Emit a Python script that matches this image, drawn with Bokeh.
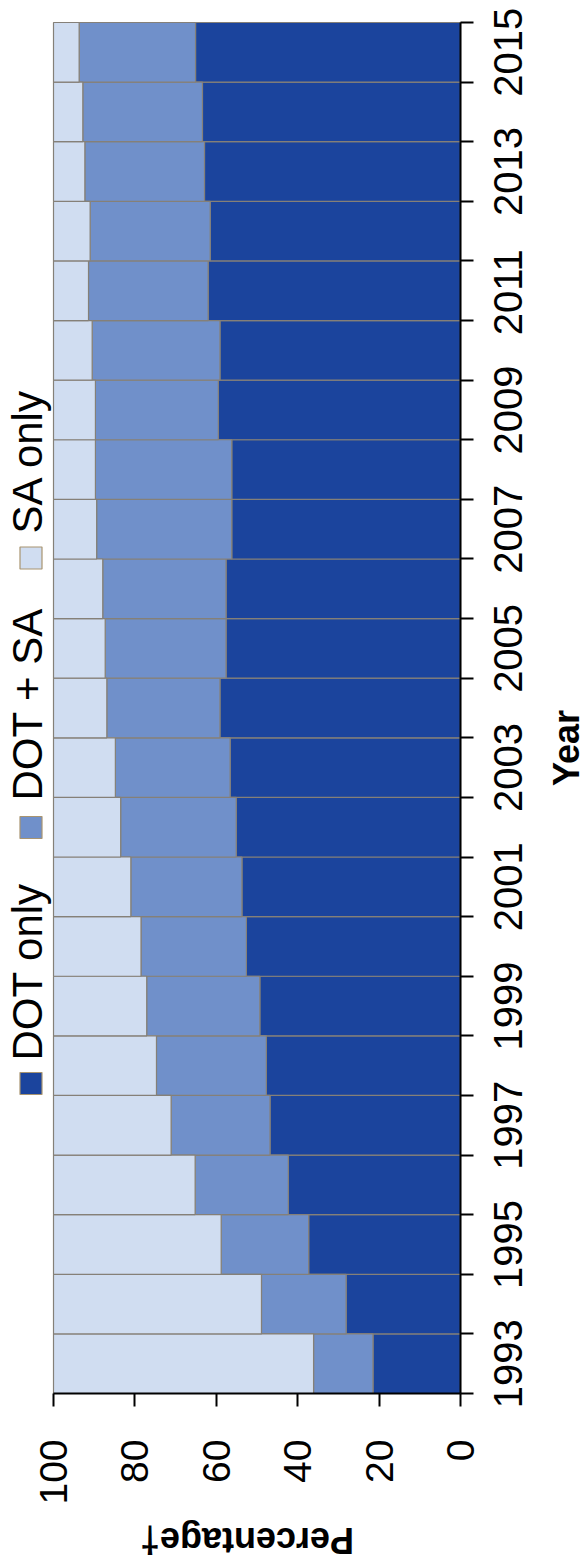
import math
from bokeh.plotting import figure
from bokeh.models import ColumnDataSource, Range1d, FixedTicker, Label, LinearAxis
from bokeh.embed import file_html
from bokeh.resources import INLINE

# ---- data ----
years = list(range(1993, 2016))
dot_only = [21.5, 28.1, 37.3, 42.3, 46.8, 47.7, 49.3, 52.6, 53.7, 55.1, 56.6, 59.1,
            57.6, 57.6, 56.2, 56.2, 59.5, 59.1, 62.0, 61.5, 62.9, 63.4, 65.1]
dot_sa = [14.6, 20.8, 21.5, 22.9, 24.3, 27.0, 27.8, 25.9, 27.3, 28.4, 28.2, 27.8,
          29.7, 30.3, 33.2, 33.5, 30.2, 31.4, 29.4, 29.5, 29.4, 29.4, 28.6]
sa_only = [63.9, 51.1, 41.2, 34.8, 28.9, 25.3, 22.9, 21.5, 19.0, 16.5, 15.2, 13.1,
           12.7, 12.1, 10.6, 10.3, 10.3, 9.5, 8.6, 9.0, 7.7, 7.2, 6.3]
series_names = ["DOT only", "DOT + SA", "SA only"]
pct_ticks = [0, 20, 40, 60, 80, 100]
year_ticks = [y for y in years if y % 2 == 1]

colors = ["#1b449d", "#7090ca", "#d0ddf1"]
edge = "#858078"
FONT = "Liberation Sans"

# ---- geometry: the frame fills the whole canvas, axes sit at fixed data locations ----
W, H = 588, 1564
X0_PX, X100_PX = 460, 53          # screen x of 0 % and 100 %
TOP_PX, BOT_PX = 22, 1393         # screen y of the top and bottom edge of the bar stack
bar_lo, bar_hi = years[0] - 0.5, years[-1] + 0.5
px_per_pct = (X0_PX - X100_PX) / 100.0
px_per_year = (BOT_PX - TOP_PX) / (bar_hi - bar_lo)
YEAR_FONT = 40


def xv(px):  # screen x -> data x
    return (X0_PX - px) / px_per_pct


def yv(py):  # screen y -> data y
    return bar_hi - (py - TOP_PX) / px_per_year


src = ColumnDataSource(dict(year=years, dot_only=dot_only, dot_sa=dot_sa, sa_only=sa_only))

p = figure(frame_width=W, frame_height=H, x_range=Range1d(xv(0), xv(W)),
           y_range=Range1d(yv(H), yv(0)), y_axis_location=None, title=None,
           output_backend="svg", toolbar_location=None,
           min_border_left=0, min_border_top=0, min_border_right=0, min_border_bottom=0)
p.outline_line_color = None
p.xgrid.visible = False
p.ygrid.visible = False
p.background_fill_color = "white"
p.border_fill_color = "white"

p.hbar_stack(["dot_only", "dot_sa", "sa_only"], y="year", height=1.0, source=src,
             fill_color=colors, line_color=edge, line_width=1.2)

# x axis (percentage) along the bottom edge of the bars
xa = p.xaxis[0]
xa.fixed_location = bar_lo
xa.bounds = (0, 100)
xa.ticker = FixedTicker(ticks=pct_ticks)
xa.minor_tick_line_color = None
xa.major_tick_in = 0
xa.major_tick_out = 13
xa.major_tick_line_width = 2
xa.axis_line_width = 2
xa.axis_line_color = "black"
xa.major_tick_line_color = "black"
xa.major_label_orientation = math.pi / 2
xa.major_label_text_font = FONT
xa.major_label_text_font_size = "39px"
xa.major_label_text_color = "black"
xa.major_label_standoff = 33

# y axis line with ticks between the bars
ya = LinearAxis(fixed_location=0, bounds=(bar_lo, bar_hi))
ya.ticker = FixedTicker(ticks=[], minor_ticks=[y - 0.5 for y in years] + [bar_hi])
ya.major_tick_line_color = None
ya.minor_tick_in = 0
ya.minor_tick_out = 13
ya.minor_tick_line_width = 2
ya.minor_tick_line_color = "black"
ya.axis_line_width = 2
ya.axis_line_color = "black"
p.add_layout(ya, "right")

# year labels: a rotated label starts at its tick, so the tick is put half a label
# length below the centre of its bar
half_len = 4 * 0.556 * YEAR_FONT / 2 / px_per_year
lab_pos = [round(y - half_len, 4) for y in year_ticks]
yl = LinearAxis(fixed_location=0)
yl.ticker = FixedTicker(ticks=lab_pos, minor_ticks=[])
yl.major_label_overrides = {t: str(y) for t, y in zip(lab_pos, year_ticks)}
yl.axis_line_color = None
yl.major_tick_line_color = None
yl.minor_tick_line_color = None
yl.major_tick_in = 0
yl.major_tick_out = 0
yl.major_label_orientation = math.pi / 2
yl.major_label_text_font = FONT
yl.major_label_text_font_size = "%dpx" % YEAR_FONT
yl.major_label_text_color = "black"
yl.major_label_standoff = 48
p.add_layout(yl, "right")

# axis titles
p.add_layout(Label(x=xv(566), y=yv(747.5), text="Year", angle=math.pi / 2,
                   text_font=FONT, text_font_size="36px", text_font_style="bold",
                   text_color="black", text_align="center", text_baseline="middle"))
p.add_layout(Label(x=xv(246.5), y=yv(1540), text="Percentage\u2020", angle=math.pi,
                   text_font=FONT, text_font_size="36px", text_font_style="bold",
                   text_color="black", text_align="center", text_baseline="middle"))

# legend (rotated, left of the bars)
sq_y = [1083, 827, 557.5]
txt_y = [1060, 800, 533]
p.scatter(x=[xv(30.5)] * 3, y=[yv(v) for v in sq_y], marker="square", size=22,
          fill_color=colors, line_color="#a89470", line_width=1.2)
for name, ty in zip(series_names, txt_y):
    p.add_layout(Label(x=xv(27), y=yv(ty), text=name, angle=math.pi / 2,
                       text_font=FONT, text_font_size="42px", text_color="black",
                       text_align="left", text_baseline="middle"))

open("out.html", "w").write(file_html(p, INLINE))
